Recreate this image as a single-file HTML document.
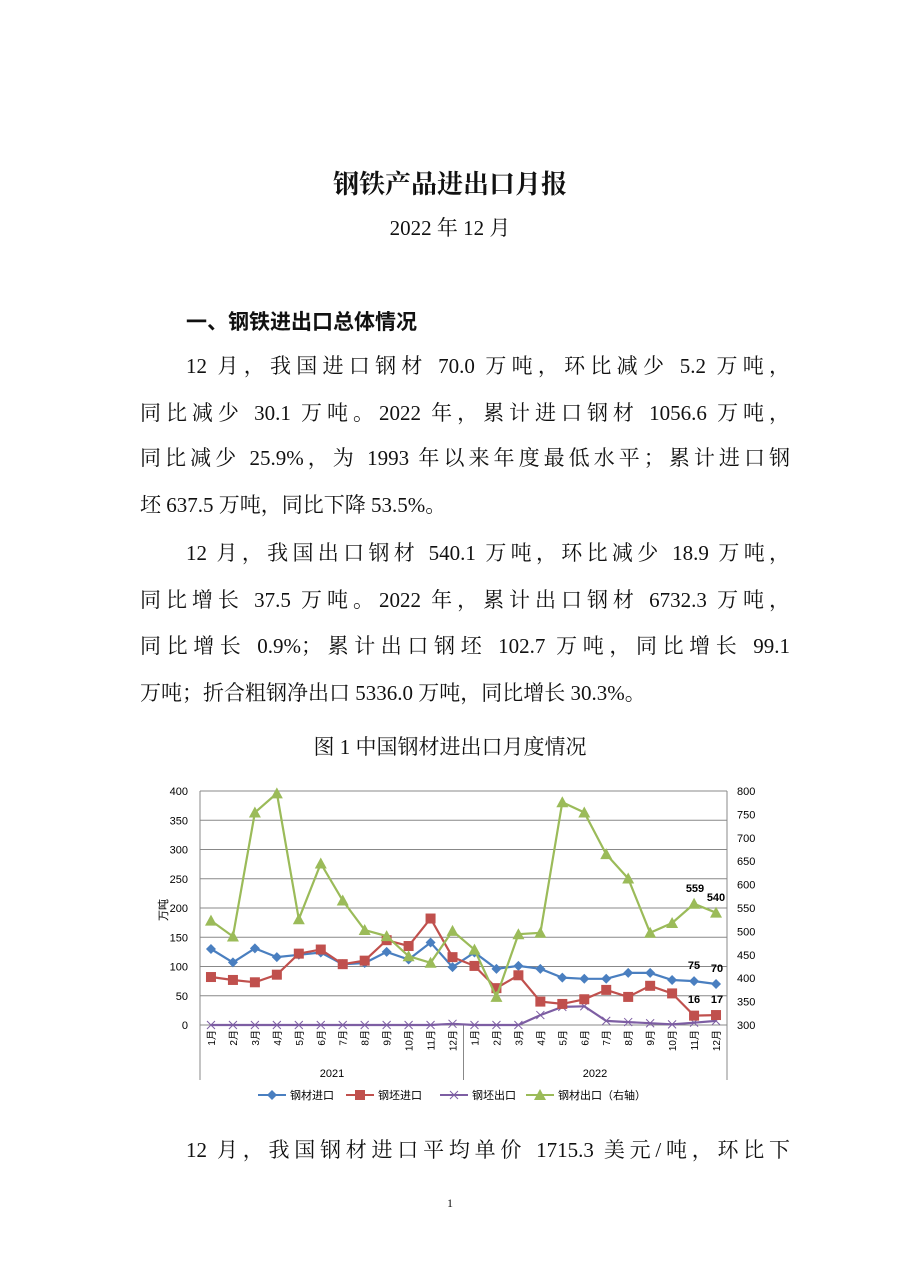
<!DOCTYPE html>
<html><head><meta charset="utf-8">
<style>
html,body{margin:0;padding:0;background:#fff;}
body{width:900px;height:1273px;position:relative;overflow:hidden;font-family:"Liberation Serif","Noto Serif CJK SC",serif;color:#111;}
.t{position:absolute;white-space:nowrap;}
.ln{position:absolute;left:140px;width:650px;font-size:21px;line-height:28px;white-space:nowrap;text-align:justify;text-align-last:justify;}
.ind{left:186px;width:604px;}
.nj{text-align-last:left;}
</style></head><body>
<div class="t" style="left:0;width:900px;text-align:center;top:164px;font-size:26px;font-weight:bold;font-family:'Noto Serif CJK SC',serif;">钢铁产品进出口月报</div>
<div class="t" style="left:0;width:900px;text-align:center;top:212px;font-size:21px;">2022 年 12 月</div>
<div class="t" style="left:186px;top:306px;font-size:21px;font-weight:bold;font-family:'Noto Sans CJK SC',sans-serif;">一、钢铁进出口总体情况</div>
<div class="ln ind" style="top:352px">12 月，我国进口钢材 70.0 万吨，环比减少 5.2 万吨，</div>
<div class="ln" style="top:399px">同比减少 30.1 万吨。2022 年，累计进口钢材 1056.6 万吨，</div>
<div class="ln" style="top:444px">同比减少 25.9%，为 1993 年以来年度最低水平；累计进口钢</div>
<div class="ln nj" style="top:491px">坯 637.5 万吨，同比下降 53.5%。</div>
<div class="ln ind" style="top:539px">12 月，我国出口钢材 540.1 万吨，环比减少 18.9 万吨，</div>
<div class="ln" style="top:586px">同比增长 37.5 万吨。2022 年，累计出口钢材 6732.3 万吨，</div>
<div class="ln" style="top:632px">同比增长 0.9%；累计出口钢坯 102.7 万吨，同比增长 99.1</div>
<div class="ln nj" style="top:679px">万吨；折合粗钢净出口 5336.0 万吨，同比增长 30.3%。</div>
<div class="t" style="left:0;width:900px;text-align:center;top:731px;font-size:21px;">图 1 中国钢材进出口月度情况</div>
<svg id="c" width="900" height="1273" style="position:absolute;left:0;top:0" xmlns="http://www.w3.org/2000/svg" font-family="Liberation Sans, Noto Sans CJK SC, sans-serif"></svg>
<div class="ln ind" style="top:1136px">12 月，我国钢材进口平均单价 1715.3 美元/吨，环比下</div>
<div class="t" style="left:0;width:900px;text-align:center;top:1196px;font-size:12px;">1</div>
<script>
var s='';
var L=200,R=727,T=791,B=1025,dx=(R-L)/24;
function X(i){return L+dx*(i+0.5);}
function YL(v){return B-v*(B-T)/400;}
function YR(v){return B-(v-300)*(B-T)/500;}
for(var k=0;k<=8;k++){var y=T+k*(B-T)/8;s+='<line x1="'+L+'" x2="'+R+'" y1="'+y+'" y2="'+y+'" stroke="#888" stroke-width="1"/>';
s+='<text x="188" y="'+(y+4)+'" font-size="11" text-anchor="end">'+(400-k*50)+'</text>';
s+='<text x="737" y="'+(y+4)+'" font-size="11">'+(800-k*62.5<0?0:[800,750,700,650,600,550,500,450,400,350,300][0])+'</text>';}
// fix right labels
s=s.replace(/<text x="737"[^<]*<\/text>/g,'');
for(var k=0;k<=10;k++){var y=T+k*(B-T)/10;s+='<text x="737" y="'+(y+4)+'" font-size="11">'+(800-k*50)+'</text>';}
s+='<line x1="'+L+'" x2="'+L+'" y1="'+T+'" y2="1080" stroke="#888"/>';
s+='<line x1="'+R+'" x2="'+R+'" y1="'+T+'" y2="1080" stroke="#888"/>';
s+='<line x1="463.5" x2="463.5" y1="'+B+'" y2="1080" stroke="#888"/>';
for(var i=0;i<24;i++){var m=(i%12+1)+'月';s+='<text transform="translate('+(X(i)+4)+',1030) rotate(-90)" font-size="10" text-anchor="end">'+m+'</text>';}
s+='<text x="332" y="1077" font-size="11" text-anchor="middle">2021</text><text x="595" y="1077" font-size="11" text-anchor="middle">2022</text>';
s+='<text transform="translate(167,910) rotate(-90)" font-size="11" text-anchor="middle">万吨</text>';
var blue=[130,107,131,116,120,124,104,106,125,112,141,99,124,96,101,96,81,79,79,89,89,77,75,70];
var red=[82,77,73,86,122,129,104,110,145,135,182,116,101,63,85,40,36,44,60,48,67,54,16,17];
var pur=[0,0,0,0,0,0,0,0,0,0,0,2,0,0,0,17,31,32,7,5,3,1,4,7];
var grn=[523,489,754,795,526,645,566,503,490,447,433,501,461,360,494,497,776,754,665,613,497,518,559,540];
function pts(a,f){return a.map(function(v,i){return X(i).toFixed(1)+','+f(v).toFixed(1)}).join(' ');}
function mk(t,x,y,c){if(t=='d')return '<polygon points="'+x+','+(y-5)+' '+(x+5)+','+y+' '+x+','+(y+5)+' '+(x-5)+','+y+'" fill="'+c+'"/>';
if(t=='s')return '<rect x="'+(x-5)+'" y="'+(y-5)+'" width="10" height="10" fill="'+c+'"/>';
if(t=='t')return '<polygon points="'+x+','+(y-6)+' '+(x+6)+','+(y+5)+' '+(x-6)+','+(y+5)+'" fill="'+c+'"/>';
return '<path d="M'+(x-4)+' '+(y-4)+'L'+(x+4)+' '+(y+4)+'M'+(x+4)+' '+(y-4)+'L'+(x-4)+' '+(y+4)+'" stroke="'+c+'" stroke-width="1"/>';}
function ser(a,f,c,t){var r='<polyline points="'+pts(a,f)+'" fill="none" stroke="'+c+'" stroke-width="2.2"/>';a.forEach(function(v,i){r+=mk(t,X(i),f(v),c)});return r;}
s+=ser(pur,YL,'#7d5ea3','x');
s+=ser(blue,YL,'#4a7fc0','d');
s+=ser(red,YL,'#c0504d','s');
s+=ser(grn,YR,'#9bbb59','t');
function lb(x,y,t){s+='<text x="'+x+'" y="'+y+'" font-size="11" font-weight="bold" text-anchor="middle">'+t+'</text>';}
lb(695,892,'559');lb(716,901,'540');lb(694,969,'75');lb(717,972,'70');lb(694,1003,'16');lb(717,1003,'17');
function lg(x,c,t,txt){s+='<line x1="'+x+'" x2="'+(x+28)+'" y1="1095" y2="1095" stroke="'+c+'" stroke-width="2"/>'+mk(t,x+14,1095,c)+'<text x="'+(x+32)+'" y="1099" font-size="11">'+txt+'</text>';}
lg(258,'#4a7fc0','d','钢材进口');lg(346,'#c0504d','s','钢坯进口');lg(440,'#7d5ea3','x','钢坯出口');lg(526,'#9bbb59','t','钢材出口（右轴）');
document.getElementById('c').innerHTML=s;
</script>
</body></html>
